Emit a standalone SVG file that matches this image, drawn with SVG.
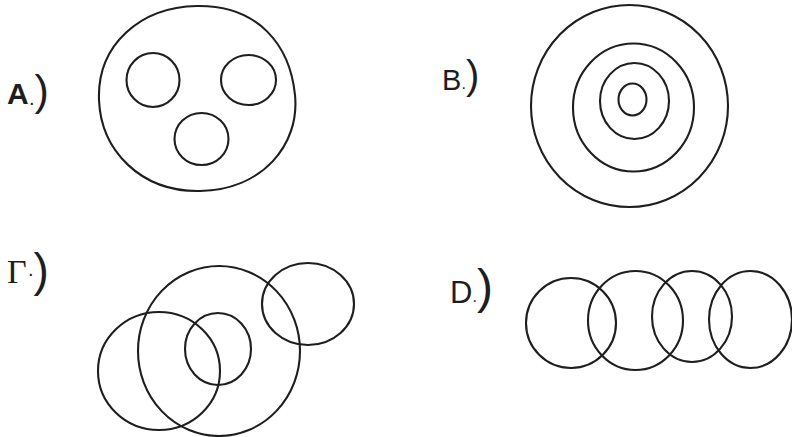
<svg xmlns="http://www.w3.org/2000/svg" width="792" height="437" viewBox="0 0 792 437">
<style>
.c{fill:none;stroke:#1e1e1e;stroke-width:2.1}
.l{font-family:"Liberation Sans",Arial,sans-serif;fill:#1e1e1e}
.s{font-family:"Liberation Serif","Times New Roman",serif}
</style>
<rect width="792" height="437" fill="#fff"/>
<g id="A">
<text class="l"><tspan x="7" y="104" font-size="30" font-weight="bold">A</tspan><tspan x="29" y="105" font-size="20">.</tspan><tspan y="105" font-size="43">)</tspan></text>
<path class="c" d="M197,6 C258,5 290,45 295,95 C300,145 262,190 200,191 C140,192 101,150 99,100 C97,45 140,7 197,6 Z"/>
<ellipse class="c" cx="153" cy="80" rx="26.5" ry="27"/>
<ellipse class="c" cx="248.5" cy="80" rx="27.5" ry="25"/>
<ellipse class="c" cx="201.5" cy="139" rx="27" ry="26"/>
</g>
<g id="B">
<text class="l"><tspan x="442" y="90" font-size="29">B</tspan><tspan x="461.5" y="89" font-size="16">.</tspan><tspan y="89" font-size="40">)</tspan></text>
<ellipse class="c" cx="629.5" cy="106" rx="98.5" ry="101"/>
<ellipse class="c" cx="633.5" cy="107.5" rx="60.5" ry="64"/>
<ellipse class="c" cx="634.5" cy="101" rx="34.5" ry="38"/>
<ellipse class="c" cx="632.5" cy="99.5" rx="14" ry="16"/>
</g>
<g id="C">
<text class="l"><tspan class="s" x="7" y="283" font-size="34">Γ</tspan><tspan x="28" y="276" font-size="20">.</tspan><tspan y="286" font-size="46">)</tspan></text>
<ellipse class="c" cx="219" cy="351" rx="81" ry="85"/>
<ellipse class="c" cx="159" cy="371" rx="61" ry="59"/>
<ellipse class="c" cx="218" cy="349" rx="33" ry="36"/>
<ellipse class="c" cx="308" cy="304" rx="46" ry="41"/>
</g>
<g id="D">
<text class="l"><tspan x="450" y="303" font-size="31">D</tspan><tspan x="472.5" y="302" font-size="16">.</tspan><tspan y="303" font-size="48">)</tspan></text>
<ellipse class="c" cx="571" cy="323" rx="45" ry="45"/>
<ellipse class="c" cx="635.5" cy="320.5" rx="47.5" ry="49.5"/>
<ellipse class="c" cx="692" cy="316.5" rx="40" ry="45.5"/>
<ellipse class="c" cx="750.5" cy="319.5" rx="41.5" ry="48.5"/>
</g>
</svg>
